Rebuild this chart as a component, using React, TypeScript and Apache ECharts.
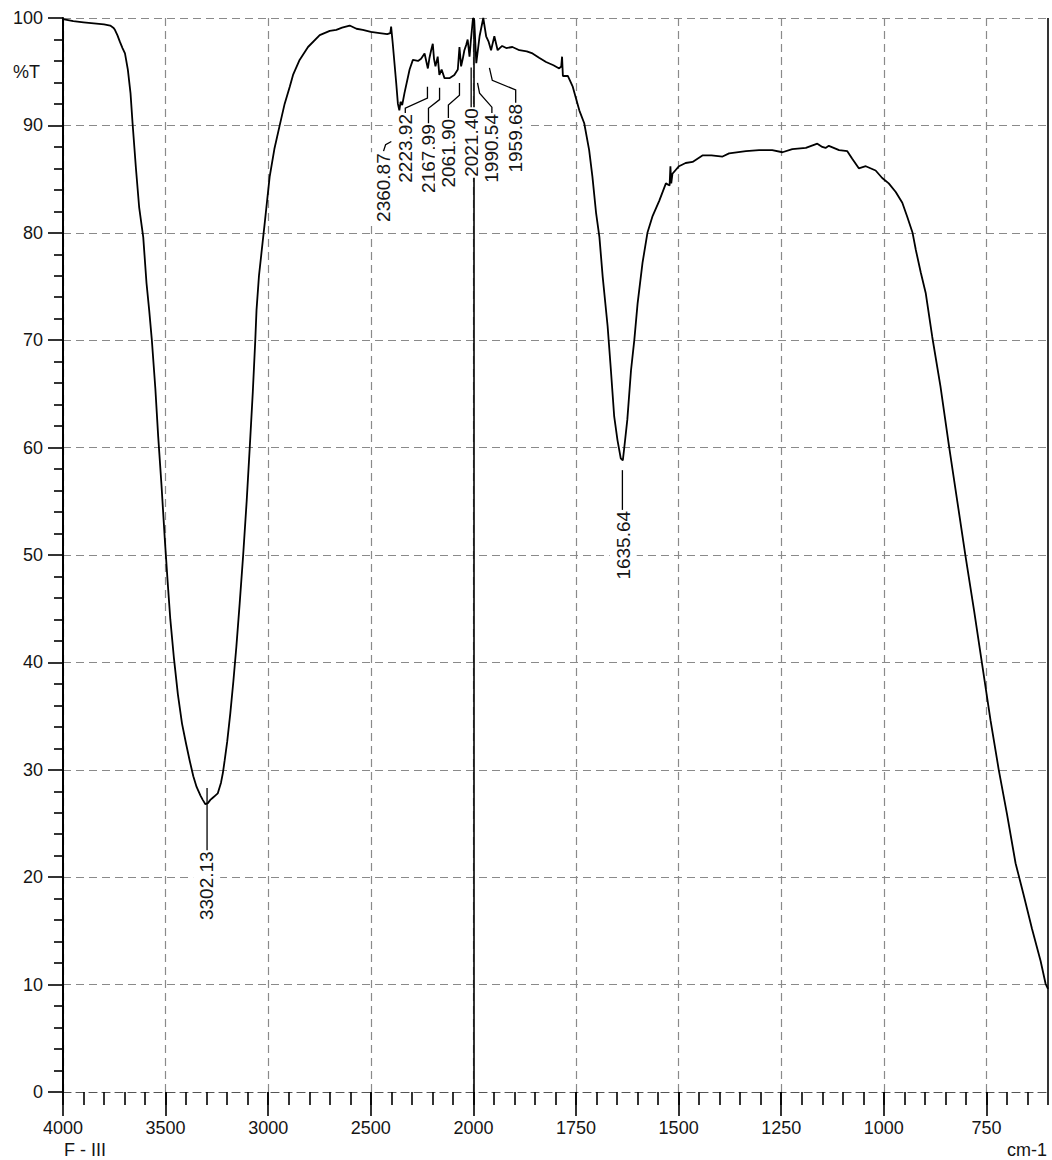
import React, { useEffect, useRef } from "react";
import * as echarts from "echarts";

// ---- Data (wavenumber in cm-1, transmittance in %T) ----
const wavenumbers = [
  4000, 3950, 3900, 3850, 3800, 3770, 3755, 3747, 3735, 3723, 3710, 3698, 3684, 3671, 3661, 3645, 3629, 3609, 3593, 3580,
  3567, 3550, 3536, 3520, 3504, 3490, 3477, 3460, 3440, 3420, 3400, 3382, 3365, 3349, 3330, 3319, 3306, 3294, 3282, 3270,
  3258, 3246, 3230, 3221, 3212, 3200, 3185, 3170, 3155, 3139, 3122, 3105, 3090, 3075, 3063, 3057, 3045, 3033, 3017, 2993,
  2970, 2944, 2920, 2895, 2879, 2847, 2806, 2749, 2700, 2668, 2640, 2603, 2570, 2539, 2500, 2457, 2420, 2405, 2401, 2393,
  2376, 2368, 2361, 2355, 2347, 2336, 2311, 2295, 2270, 2255, 2238, 2230, 2222, 2214, 2206, 2198, 2192, 2185, 2174, 2166,
  2155, 2141, 2117, 2093, 2076, 2068, 2060, 2052, 2044, 2035, 2028, 2019, 2012, 2006, 2002, 1998, 1993, 1985, 1976, 1969,
  1963, 1957, 1949, 1941, 1930, 1920, 1905, 1888, 1870, 1856, 1840, 1823, 1805, 1791, 1786, 1784, 1782, 1770, 1758, 1750,
  1742, 1730, 1718, 1710, 1701, 1693, 1685, 1673, 1665, 1657, 1649, 1641, 1636, 1633, 1625, 1616, 1608, 1600, 1588, 1576,
  1564, 1547, 1531, 1522, 1520, 1518, 1515, 1499, 1483, 1466, 1442, 1420, 1393, 1377, 1336, 1304, 1272, 1247, 1223, 1190,
  1162, 1150, 1142, 1134, 1109, 1089, 1077, 1061, 1044, 1020, 1004, 988, 971, 955, 943, 930, 922, 910, 898, 882,
  862, 841, 821, 801, 780, 760, 740, 720, 700, 679, 659, 639, 618, 606, 600,
];
const transmittance = [
  99.9, 99.7, 99.6, 99.5, 99.4, 99.3, 99.1, 98.9, 98.4, 97.8, 97.2, 96.7, 95.2, 93.0, 90.2, 86.1, 82.4, 79.6, 75.3, 72.8,
  70.0, 65.5, 61.0, 56.5, 51.5, 47.5, 44.0, 40.5, 37.0, 34.3, 32.4, 30.8, 29.4, 28.4, 27.6, 27.2, 26.8, 26.9, 27.2, 27.4,
  27.6, 27.8, 28.8, 29.7, 30.9, 32.6, 35.2, 38.2, 41.5, 45.5, 50.0, 55.0, 60.0, 65.2, 70.0, 72.8, 76.0, 78.1, 80.9, 85.2,
  87.8, 90.0, 92.0, 93.6, 94.7, 96.1, 97.3, 98.4, 98.8, 98.9, 99.1, 99.3, 99.0, 98.9, 98.7, 98.6, 98.5, 98.6, 99.2, 97.6,
  93.9, 92.0, 91.4, 92.2, 91.9, 93.0, 95.2, 96.1, 96.0, 96.2, 96.7, 96.0, 95.3, 96.3, 97.0, 97.6, 96.2, 95.5, 96.4, 94.7,
  95.2, 94.4, 94.4, 94.7, 95.2, 97.3, 95.5, 96.2, 97.0, 97.5, 98.0, 96.4, 98.0, 99.2, 100.0, 99.8, 95.8, 98.3, 100.0, 98.3,
  97.8, 97.0, 98.3, 97.0, 97.4, 97.2, 97.3, 97.0, 96.9, 96.7, 96.3, 95.9, 95.6, 95.3, 95.5, 96.4, 94.6, 94.6, 93.6, 92.5,
  91.4, 90.2, 87.7, 85.2, 81.8, 79.6, 75.9, 71.3, 67.2, 62.9, 60.7, 59.0, 58.8, 59.8, 62.6, 67.2, 70.0, 73.4, 77.2, 80.0,
  81.5, 83.0, 84.6, 84.4, 86.2, 84.6, 85.5, 86.2, 86.5, 86.6, 87.2, 87.2, 87.1, 87.4, 87.6, 87.7, 87.7, 87.5, 87.8, 87.9,
  88.3, 88.0, 87.9, 88.1, 87.7, 87.6, 86.9, 86.0, 86.2, 85.8, 85.1, 84.6, 83.8, 82.8, 81.5, 80.0, 78.4, 76.3, 74.4, 70.3,
  65.7, 60.1, 55.0, 49.9, 44.8, 39.7, 34.6, 30.0, 25.9, 21.3, 18.3, 15.2, 12.2, 10.1, 9.6,
];

// Axis ticks (wavenumber labels) and limits
const xTickLabels = [4000, 3500, 3000, 2500, 2000, 1750, 1500, 1250, 1000, 750];
const xMinorStep = 100; // in transformed units
const wavenumberStart = 4000;
const wavenumberBreak = 2000;
const wavenumberEnd = 600;
const yMin = 0;
const yMax = 100;
const yInterval = 10;

// Peak annotations: text, anchor [wavenumber, %T] of the label's top end, leader polyline
const peakLabels = ["3302.13", "2360.87", "2223.92", "2167.99", "2061.90", "2021.40", "1990.54", "1959.68", "1635.64"];
const peakLabelAnchors: [number, number][] = [
  [3300, 22.5], [2438, 87.5], [2329, 91.15], [2219, 90.2], [2122, 90.7], [2010, 91.7], [1955, 91.15], [1897, 92.1], [1635, 54.2],
];
const peakLeaders: [number, number][][] = [
  [[3298, 28.3], [3298, 22.5]],
  [[2438, 87.6], [2428, 88.2], [2400, 88.5]],
  [[2332, 91.15], [2332, 91.6], [2224, 92.55], [2224, 93.6]],
  [[2219, 90.2], [2219, 91.6], [2165, 92.4], [2165, 93.5]],
  [[2122, 90.7], [2122, 91.9], [2068, 92.8], [2068, 93.95]],
  [[2011, 91.7], [2011, 95.4]],
  [[1955, 91.15], [1955, 91.7], [1985, 93.0], [1990, 93.95]],
  [[1897, 92.1], [1897, 93.3], [1954, 94.2], [1961, 95.35]],
  [[1637, 57.9], [1637, 54.2]],
];

// Piecewise scale: 4000-2000 compressed (x1), 2000-600 expanded (x2)
const toU = (w: number) => (w >= wavenumberBreak ? wavenumberStart - w : wavenumberBreak + (wavenumberBreak - w) * 2);
const fromU = (u: number) => (u <= 2000 ? wavenumberStart - u : wavenumberBreak - (u - 2000) / 2);

const FONT = '"Liberation Sans", Arial, Helvetica, sans-serif';
const TEXT_COLOR = "#151515";

export default function App() {
  const ref = useRef<HTMLDivElement>(null);

  useEffect(() => {
    if (!ref.current) return;
    const chart = echarts.init(ref.current, undefined, { renderer: "svg" });
    const uMax = toU(wavenumberEnd);
    const majorU = xTickLabels.map(toU);
    const seriesData = wavenumbers.map((w, i) => [toU(w), transmittance[i]]);

    chart.setOption({
      animation: false,
      backgroundColor: "#ffffff",
      grid: { left: 63, right: 4, top: 18, bottom: 68, containLabel: false, outerBoundsMode: "none" },
      xAxis: [
        {
          type: "value",
          min: 0,
          max: uMax,
          interval: 500,
          position: "bottom",
          axisLine: { show: true, lineStyle: { color: "#555", width: 1.2, type: [8, 5] } },
          axisTick: { show: true, length: 24, customValues: majorU, lineStyle: { color: "#000", width: 1.6 } },
          axisLabel: {
            show: true,
            customValues: majorU,
            margin: 27,
            fontFamily: FONT,
            fontSize: 18,
            color: TEXT_COLOR,
            formatter: (v: number) => String(Math.round(fromU(v))),
          },
          splitLine: { show: true, lineStyle: { color: "#8a8a8a", width: 1.2, type: [8, 5] } },
        },
        {
          type: "value",
          min: 0,
          max: uMax,
          interval: xMinorStep,
          position: "bottom",
          axisLine: { show: false },
          axisTick: { show: true, length: 13, lineStyle: { color: "#000", width: 1.6 } },
          axisLabel: { show: false },
          splitLine: { show: false },
        },
      ],
      yAxis: {
        type: "value",
        min: yMin,
        max: yMax,
        interval: yInterval,
        axisLine: { show: true, lineStyle: { color: "#000", width: 2 } },
        axisTick: { show: true, length: 15, lineStyle: { color: "#000", width: 1.6 } },
        minorTick: { show: true, splitNumber: 5, length: 9, lineStyle: { color: "#000", width: 1.6 } },
        axisLabel: { margin: 20, fontFamily: FONT, fontSize: 18, color: TEXT_COLOR },
        splitLine: { show: true, lineStyle: { color: "#8a8a8a", width: 1.2, type: [8, 5] } },
      },
      series: [
        {
          type: "line",
          xAxisIndex: 0,
          yAxisIndex: 0,
          data: seriesData,
          showSymbol: false,
          symbol: "none",
          lineStyle: { color: "#000", width: 1.8 },
          z: 3,
          markLine: {
            silent: true,
            symbol: "none",
            label: { show: false },
            lineStyle: { color: "#000", width: 1.6, type: "solid" },
            data: [{ xAxis: toU(wavenumberBreak) }, { xAxis: uMax }],
          },
        },
      ],
    });

    const px = (p: [number, number]) =>
      chart.convertToPixel({ xAxisIndex: 0, yAxisIndex: 0 }, [toU(p[0]), p[1]]) as number[];

    const graphics: any[] = [];
    peakLeaders.forEach((pts) => {
      graphics.push({
        type: "polyline",
        z: 101,
        silent: true,
        shape: { points: pts.map((p) => px(p)) },
        style: { stroke: "#000", lineWidth: 1.3, fill: null },
      });
    });
    peakLabels.forEach((label, i) => {
      const [x, y] = px(peakLabelAnchors[i]);
      graphics.push({
        type: "text",
        z: 100,
        silent: true,
        x,
        y,
        rotation: Math.PI / 2,
        style: {
          text: label,
          font: `19px ${FONT}`,
          fill: TEXT_COLOR,
          align: "right",
          verticalAlign: "middle",
          backgroundColor: "#ffffff",
          padding: [4, 1, 4, 1],
        },
      });
    });
    graphics.push(
      { type: "text", x: 13, y: 72, style: { text: "%T", font: `18px ${FONT}`, fill: TEXT_COLOR, align: "left", verticalAlign: "middle" } },
      { type: "text", x: 64, y: 1150, style: { text: "F - III", font: `18px ${FONT}`, fill: TEXT_COLOR, align: "left", verticalAlign: "middle" } },
      { type: "text", x: 1047, y: 1150, style: { text: "cm-1", font: `18px ${FONT}`, fill: TEXT_COLOR, align: "right", verticalAlign: "middle" } }
    );
    chart.setOption({ graphic: graphics });

    return () => chart.dispose();
  }, []);

  return (
    <div
      ref={ref}
      style={{ position: "absolute", left: 0, top: 0, width: 1052, height: 1160, background: "#fff" }}
    />
  );
}
